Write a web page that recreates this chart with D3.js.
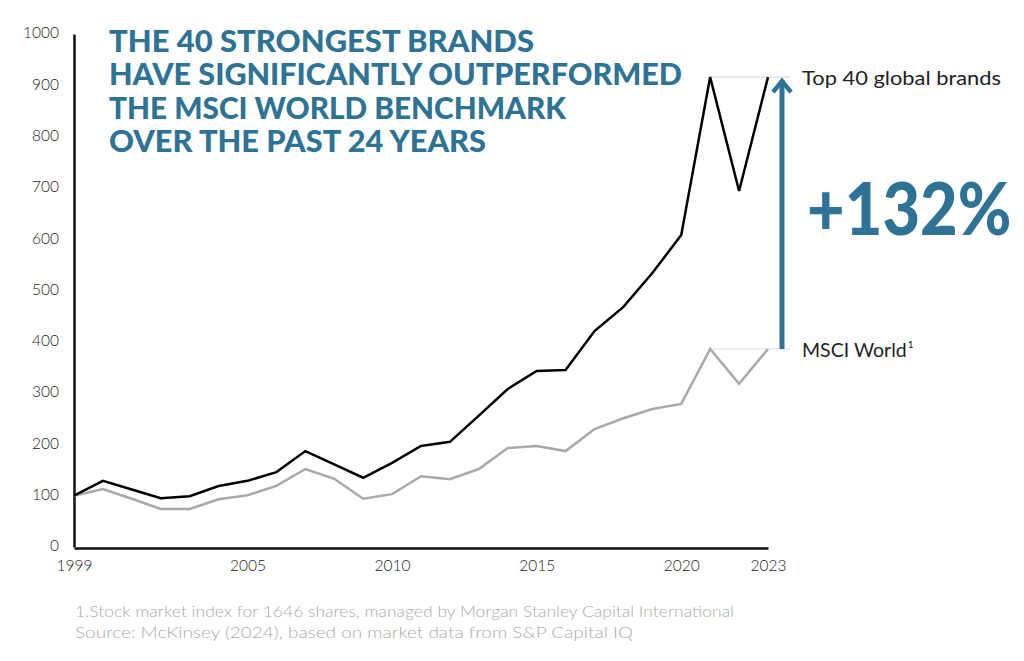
<!DOCTYPE html>
<html>
<head>
<meta charset="utf-8">
<script src="https://cdn.jsdelivr.net/npm/d3@7"></script>
<style>
  html, body { margin: 0; padding: 0; background: #fff; }
  svg { display: block; font-family: Lato, "Open Sans", sans-serif; }
</style>
</head>
<body>
<svg id="chart" width="1024" height="661"></svg>
<script>
// ---- Data ----
const years = [1999, 2000, 2001, 2002, 2003, 2004, 2005, 2006, 2007, 2008, 2009, 2010,
               2011, 2012, 2013, 2014, 2015, 2016, 2017, 2018, 2019, 2020, 2021, 2022, 2023];
const top40 = [100, 129, 112, 95, 99, 119, 129, 146, 187, 161, 135, 164,
               197, 205, 256, 308, 343, 345, 421, 468, 534, 608, 916, 694, 916];
const msci  = [100, 113, 94, 74, 74, 93, 101, 119, 152, 133, 94, 103,
               138, 132, 152, 193, 197, 187, 230, 251, 269, 279, 386, 318, 386];
const xTicks = [1999, 2005, 2010, 2015, 2020, 2023];
const yTicks = [0, 100, 200, 300, 400, 500, 600, 700, 800, 900, 1000];
const titleLines = [
  "THE 40 STRONGEST BRANDS",
  "HAVE SIGNIFICANTLY OUTPERFORMED",
  "THE MSCI WORLD BENCHMARK",
  "OVER THE PAST 24 YEARS"
];
const seriesLabels = ["Top 40 global brands", "MSCI World"];
const gainLabel = "+132%";
const footnotes = [
  "1.Stock market index for 1646 shares, managed by Morgan Stanley Capital International",
  "Source: McKinsey (2024), based on market data from S&P Capital IQ"
];

// ---- Layout ----
const BLUE = "#2e7396";
const svg = d3.select("#chart");
const x = d3.scaleLinear().domain([1999, 2023]).range([74, 768]);
const y = d3.scaleLinear().domain([0, 1000]).range([547, 34]);

// Axes
const yAxis = svg.append("g").attr("transform", "translate(74,0)")
  .call(d3.axisLeft(y).tickValues(yTicks).tickSize(0).tickPadding(15).tickFormat(d3.format("d")));
yAxis.select(".domain").attr("stroke", "#111").attr("stroke-width", 2.5);
yAxis.selectAll("text").attr("font-size", 15.5).attr("fill", "#222").attr("font-weight", 300)
  .attr("font-family", "Lato, sans-serif").attr("dy", "0.25em");

const xAxis = svg.append("g").attr("transform", "translate(0,548)")
  .call(d3.axisBottom(x).tickValues(xTicks).tickSize(0).tickPadding(12).tickFormat(d3.format("d")));
xAxis.select(".domain").attr("stroke", "#111").attr("stroke-width", 2.5);
xAxis.selectAll("text").attr("font-size", 15.5).attr("fill", "#222").attr("font-weight", 300)
  .attr("font-family", "Lato, sans-serif");

// Reference lines at final values
const last = years.length - 1;
const peakYear = years[last - 2];
[top40[last], msci[last]].forEach(v => {
  svg.append("line")
    .attr("x1", x(peakYear)).attr("x2", x(years[last]) + 22)
    .attr("y1", y(v)).attr("y2", y(v))
    .attr("stroke", "#dcdcdc").attr("stroke-width", 1.2);
});

// Lines
const line = d3.line().x((d, i) => x(years[i])).y(d => y(d));
svg.append("path").datum(msci).attr("d", line)
  .attr("fill", "none").attr("stroke", "#a9a9a9").attr("stroke-width", 2.5)
  .attr("stroke-linejoin", "miter");
svg.append("path").datum(top40).attr("d", line)
  .attr("fill", "none").attr("stroke", "#000").attr("stroke-width", 2.5)
  .attr("stroke-linejoin", "miter");

// Arrow
const ax = x(years[last]) + 14;
svg.append("line")
  .attr("x1", ax).attr("x2", ax)
  .attr("y1", y(msci[last])).attr("y2", y(top40[last]) + 3)
  .attr("stroke", BLUE).attr("stroke-width", 5);
svg.append("path")
  .attr("d", `M${ax - 9},${y(top40[last]) + 15} L${ax},${y(top40[last]) + 4} L${ax + 9},${y(top40[last]) + 15}`)
  .attr("fill", "none").attr("stroke", BLUE).attr("stroke-width", 4.5);

// Series labels
svg.append("text").attr("x", 802).attr("y", y(top40[last]) + 8)
  .attr("font-size", 19.5).attr("fill", "#222").attr("textLength", 199)
  .attr("lengthAdjust", "spacingAndGlyphs")
  .text(seriesLabels[0]);
const msciLbl = svg.append("text").attr("x", 802).attr("y", y(msci[last]) + 8)
  .attr("font-size", 19.5).attr("fill", "#222");
msciLbl.append("tspan").text(seriesLabels[1]);
msciLbl.append("tspan").attr("font-size", 10).attr("dy", -9).attr("dx", 1).text("1");

// Gain label (natural width fitted, stretched vertically)
svg.append("text").attr("transform", "translate(807,235) scale(1,1.12)")
  .attr("font-size", 65).attr("font-weight", 900).attr("fill", BLUE)
  .text(gainLabel);

// Title
const titleWidths = [425, 573, 457, 377];
titleLines.forEach((t, i) => {
  svg.append("text").attr("x", 109).attr("y", 51.5 + i * 33.5)
    .attr("font-size", 30.5).attr("font-weight", 900).attr("fill", BLUE)
    .attr("textLength", titleWidths[i]).attr("lengthAdjust", "spacingAndGlyphs")
    .text(t);
});

// Footnotes
const footWidths = [659, 558];
footnotes.forEach((t, i) => {
  svg.append("text").attr("x", 75).attr("y", 617 + i * 21)
    .attr("font-size", 15.5).attr("font-weight", 300).attr("fill", "#ababab")
    .attr("textLength", footWidths[i]).attr("lengthAdjust", "spacingAndGlyphs")
    .text(t);
});
</script>
</body>
</html>
